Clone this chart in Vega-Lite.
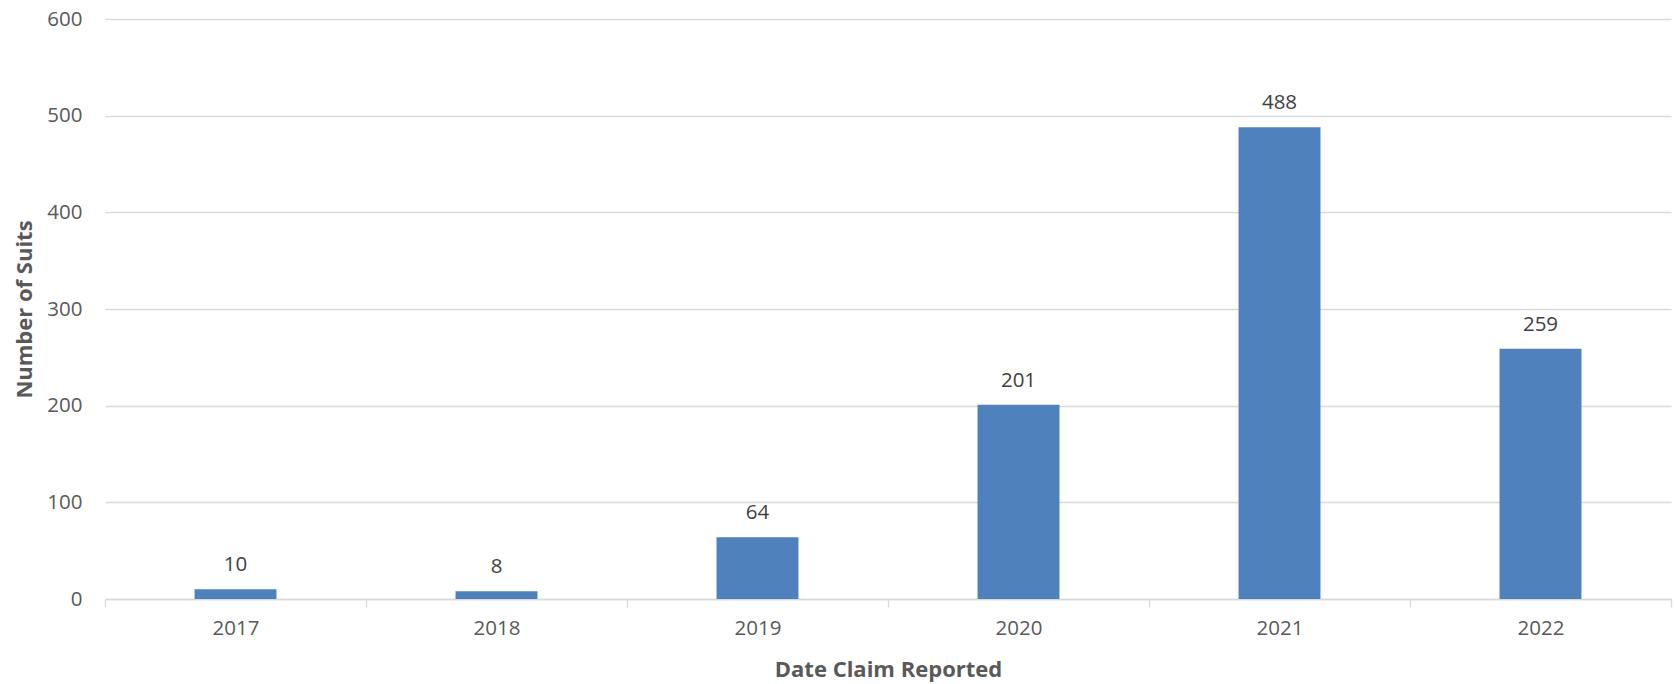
{
  "$schema": "https://vega.github.io/schema/vega-lite/v6.json",
  "autosize": "none",
  "width": 1566,
  "height": 580,
  "padding": {"left": 105, "top": 19, "right": 6, "bottom": 85},
  "background": "white",
  "config": {
    "view": {"stroke": null},
    "font": "Open Sans",
    "axis": {"labelFont": "Open Sans", "titleFont": "Open Sans", "labelColor": "#595959", "titleColor": "#595959"}
  },
  "data": {
    "values": [
      {"year": "2017", "suits": 10},
      {"year": "2018", "suits": 8},
      {"year": "2019", "suits": 64},
      {"year": "2020", "suits": 201},
      {"year": "2021", "suits": 488},
      {"year": "2022", "suits": 259}
    ]
  },
  "encoding": {
    "x": {
      "field": "year",
      "type": "nominal",
      "sort": null,
      "scale": {"paddingInner": 0, "paddingOuter": 0},
      "axis": {
        "title": "Date Claim Reported",
        "titleFontSize": 22,
        "titleFontWeight": "bold",
        "titlePadding": 21,
        "labelFontSize": 20.5,
        "labelAngle": 0,
        "labelPadding": 11,
        "domainColor": "#d9d9d9",
        "domainWidth": 1.3,
        "tickColor": "#d9d9d9",
        "tickWidth": 1.3,
        "tickSize": 8,
        "tickBand": "extent"
      }
    },
    "y": {
      "field": "suits",
      "type": "quantitative",
      "scale": {"domain": [0, 600]},
      "axis": {
        "title": "Number of Suits",
        "titleFontSize": 22,
        "titleFontWeight": "bold",
        "titlePadding": 10,
        "labelFontSize": 20.5,
        "labelPadding": 23,
        "values": [0, 100, 200, 300, 400, 500, 600],
        "domain": false,
        "ticks": false,
        "gridColor": "#d9d9d9",
        "gridWidth": 1.3
      }
    }
  },
  "layer": [
    {
      "mark": {"type": "bar", "color": "#4f81bd", "width": {"band": 0.314}}
    },
    {
      "mark": {"type": "text", "dy": -18, "baseline": "alphabetic", "fontSize": 20.5, "color": "#404040", "font": "Open Sans"},
      "encoding": {"text": {"field": "suits", "type": "quantitative"}}
    }
  ]
}
